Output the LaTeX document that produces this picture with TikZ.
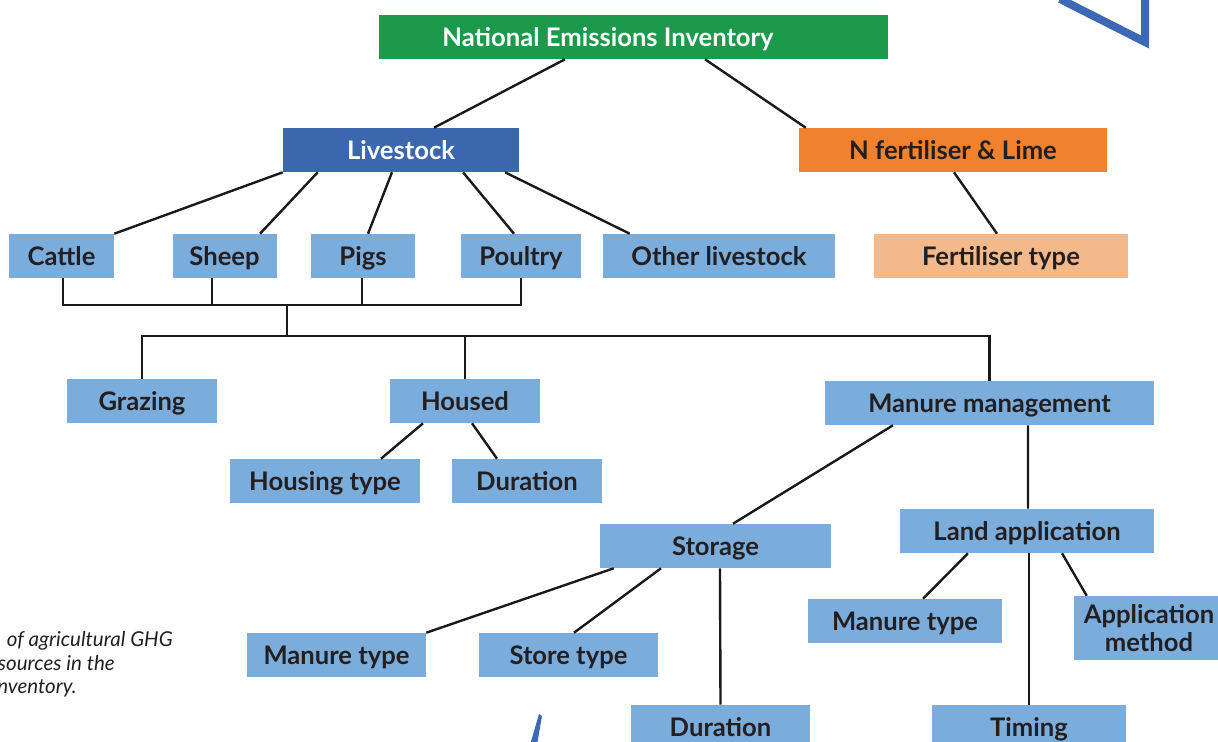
\documentclass[tikz,border=0pt]{standalone}
\usepackage{fontspec}
\setmainfont{Lato}
\usetikzlibrary{calc}

\definecolor{invgreen}{HTML}{1B9A4B}
\definecolor{stockblue}{HTML}{3A67AE}
\definecolor{fertorange}{HTML}{F0822E}
\definecolor{fertpeach}{HTML}{F4B98A}
\definecolor{itemblue}{HTML}{7BADDC}
\definecolor{textdark}{HTML}{231F20}
\definecolor{decoblue}{HTML}{3D68B4}

\begin{document}
\begin{tikzpicture}[x=0.025cm, y=-0.025cm,
    every node/.style={inner sep=0pt, align=center, font=\fontsize{18.2}{19.5}\selectfont\bfseries},
    plainbox/.style={fill=itemblue, text=textdark, minimum height=1.1cm, minimum width=#1*0.025cm},
    box/.style={plainbox=#1, text height=13pt, text depth=0pt},
    topbox/.style={box=#1, fill=invgreen, text=white},
    livebox/.style={box=#1, fill=stockblue, text=white},
    fertbox/.style={box=#1, fill=fertorange},
    peachbox/.style={box=#1, fill=fertpeach},
    caption/.style={anchor=base east, text=textdark, font=\fontsize{14.6}{16}\selectfont\itshape},
    link/.style={line width=1.7pt, black!90}]
    \useasboundingbox (0,0) rectangle (1218,742);
    \clip (0,0) rectangle (1218,742);

    % top of the tree
    \node[topbox=509] (inventory) at (633.5,37) {National Emissions Inventory\hspace{1.275cm}};
    \node[livebox=236] (livestock) at (401,150) {Livestock};
    \node[fertbox=308] (fertiliser) at (953,150) {N fertiliser \& Lime};

    % animals
    \node[box=105] (cattle) at (61.5,256) {Cattle};
    \node[box=104] (sheep) at (224.5,256) {Sheep};
    \node[box=104] (pigs) at (363,256) {Pigs};
    \node[box=120] (poultry) at (521,256) {Poultry};
    \node[box=232] (other) at (719,256) {Other livestock};
    \node[peachbox=254] (fertype) at (1001,256) {Fertiliser type};

    % where the animals are
    \node[box=150] (grazing) at (142,401) {Grazing};
    \node[box=150] (housed) at (465,401) {Housed};
    \node[box=329] (manure) at (989.5,403) {Manure management};
    \node[box=190] (housing) at (325,481) {Housing type};
    \node[box=150] (houseddur) at (527,481) {Duration};

    % manure
    \node[box=231] (storage) at (715.5,546) {Storage};
    \node[box=254] (landapp) at (1027,531) {Land application};
    \node[box=179] (storemanure) at (336.5,655) {Manure type};
    \node[box=179] (storetype) at (568.5,655) {Store type};
    \node[box=179] (storedur) at (720.5,727) {Duration};
    \node[box=194] (landmanure) at (905,621) {Manure type};
    \node[plainbox=150, minimum height=1.6cm] (method) at (1149,628) {Application\\method};
    \node[box=194] (timing) at (1029,727) {Timing};

    \coordinate (animalbus) at (287,305);
    \coordinate (groupbus) at (287,336);

    \draw[link] ($(inventory.south)+(-68.5,0)$) -- ($(livestock.north)+(33,0)$);
    \draw[link] ($(inventory.south)+(71.5,0)$) -- ($(fertiliser.north west)+(7,0)$);

    \draw[link] (livestock.south west) -- (cattle.north east);
    \draw[link] ($(livestock.south west)+(35,0)$) -- ($(sheep.north)+(35.5,0)$);
    \draw[link] ($(livestock.south)+(-9,0)$) -- ($(pigs.north)+(5,0)$);
    \draw[link] ($(livestock.south)+(62,0)$) -- ($(poultry.north)+(-7,0)$);
    \draw[link] ($(livestock.south)+(104,0)$) -- ($(other.north west)+(27,0)$);
    \draw[link] ($(fertiliser.south)+(1,0)$) -- ($(fertype.north)+(-4,0)$);

    \draw[link] ($(cattle.south)+(1.5,0)$) |- (animalbus) -| (poultry.south);
    \draw[link] ($(sheep.south)+(-12.5,0)$) -- ++(0,27);
    \draw[link] ($(pigs.south)+(-1,0)$) -- ++(0,27);
    \draw[link] (animalbus) -- (groupbus);
    \draw[link] (grazing.north) |- (groupbus) -| (manure.north);
    \draw[link] (housed.north) -- ++(0,-43);

    \draw[link] ($(housed.south)+(-42,0)$) -- ($(housing.north)+(56,0)$);
    \draw[link] ($(housed.south)+(7,0)$) -- ($(houseddur.north)+(-30,0)$);

    \draw[link] ($(manure.south)+(-96.5,0)$) -- ($(storage.north)+(17.5,0)$);
    \draw[link] ($(manure.south)+(38.5,0)$) -- ($(landapp.north)+(1,0)$);

    \draw[link] ($(storage.south west)+(14,0)$) -- (storemanure.north east);
    \draw[link] ($(storage.south)+(-54.5,0)$) -- ($(storetype.north)+(5.5,0)$);
    \draw[link] ($(storage.south)+(4.5,0)$) -- (storedur.north);

    \draw[link] ($(landapp.south)+(-59,0)$) -- ($(landmanure.north)+(18,0)$);
    \draw[link] ($(landapp.south)+(35,0)$) -- ($(method.north west)+(13,0)$);
    \draw[link] ($(landapp.south)+(2,0)$) -- (timing.north);

    % page decoration
    \draw[decoblue, line width=8*0.025cm, miter limit=10] (1060,-1) -- (1145,42) -- (1145,-5);
    \fill[decoblue] (539,714) -- (542,716) -- (537,745) -- (530,745) -- cycle;

    % caption, cut at the page edge
    \node[caption] (captionone) at (173,646) {of agricultural GHG};
    \node[caption] (captiontwo) at (115,670) {sources in the};
    \node[caption] (captionthree) at (77,693) {nventory.};
\end{tikzpicture}
\end{document}
